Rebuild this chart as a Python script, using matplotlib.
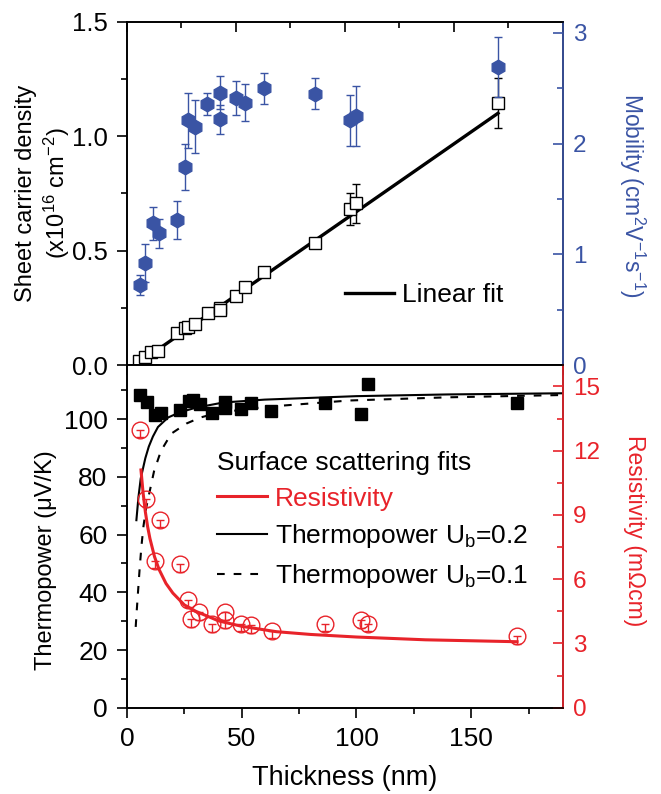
import matplotlib
matplotlib.use("Agg")
import matplotlib.pyplot as plt
from matplotlib.ticker import MultipleLocator

plt.rcParams['font.family'] = ['Liberation Sans', 'DejaVu Sans']
plt.rcParams['mathtext.fontset'] = 'custom'
plt.rcParams['mathtext.rm'] = 'Liberation Sans'
plt.rcParams['mathtext.it'] = 'Liberation Sans:italic'
plt.rcParams['axes.linewidth'] = 1.2

BLUE = '#3a54a4'
RED = '#e8232a'

# top panel: Hall data
hall_t = [5.8, 8.3, 11.9, 14.5, 22.9, 26.6, 28.0, 31.2, 36.9, 42.8, 42.8, 49.9, 54.1, 62.9, 86.1, 102.2, 105.0, 170.2]
mobility = [0.72, 0.92, 1.28, 1.19, 1.31, 1.79, 2.21, 2.15, 2.36, 2.46, 2.22, 2.41, 2.37, 2.50, 2.45, 2.21, 2.25, 2.69]
mobility_err = [0.09, 0.17, 0.15, 0.13, 0.17, 0.21, 0.25, 0.24, 0.10, 0.15, 0.13, 0.15, 0.17, 0.14, 0.14, 0.23, 0.27, 0.27]
dens_t = [5.5, 8.1, 11.2, 14.2, 22.9, 26.5, 28.0, 31.0, 37.2, 42.8, 42.8, 49.9, 54.1, 62.9, 86.1, 102.2, 105.0, 170.2]
density = [0.017, 0.036, 0.058, 0.063, 0.138, 0.160, 0.167, 0.179, 0.226, 0.248, 0.240, 0.303, 0.342, 0.408, 0.532, 0.680, 0.706, 1.146]
density_err = [0.01, 0.01, 0.01, 0.01, 0.01, 0.01, 0.01, 0.01, 0.01, 0.01, 0.01, 0.01, 0.01, 0.01, 0.01, 0.07, 0.084, 0.11]
linfit_t = [5.5, 170.2]
linfit_n = [0.01, 1.10]

# bottom panel: thermopower and resistivity
tp_t = [5.5, 8.9, 12.1, 15.0, 23.0, 26.9, 28.8, 31.7, 37.0, 42.5, 42.5, 49.5, 53.9, 62.9, 86.1, 102.1, 105.0, 170.0]
thermopower = [108.4, 106.1, 101.5, 102.0, 103.2, 106.4, 106.7, 105.3, 102.3, 106.0, 104.0, 103.4, 105.7, 103.0, 105.8, 101.8, 112.2, 105.5]
res_t = [5.8, 8.4, 12.1, 14.2, 22.9, 26.6, 27.7, 31.2, 37.0, 42.8, 42.8, 49.8, 54.2, 63.2, 86.1, 102.1, 105.0, 170.0]
resistivity = [12.98, 9.73, 6.87, 8.78, 6.70, 5.05, 4.12, 4.45, 3.90, 4.45, 4.09, 3.93, 3.86, 3.59, 3.93, 4.09, 3.93, 3.34]
res_err = [0.35] * len(res_t)

resfit_t = [6.1, 7, 8, 9, 10, 12, 14, 17, 20, 25, 30, 40, 50, 65, 80, 100, 130, 170]
resfit = [11.1, 10.05, 9.15, 8.45, 7.9, 7.05, 6.45, 5.8, 5.35, 4.8, 4.5, 4.05, 3.8, 3.55, 3.42, 3.3, 3.17, 3.08]
tp02_t = [4.1, 5.0, 6.0, 7.0, 8.0, 9.5, 11.3, 13.5, 17.9, 23, 30, 42, 60, 100, 140, 190]
tp02 = [65, 73, 79.5, 83, 86.5, 90.5, 94, 97.3, 100.6, 102.4, 104, 105.8, 106.8, 108, 108.6, 109]
tp01_t = [3.8, 4.2, 4.8, 5.5, 6.3, 7.2, 8.3, 9.9, 11.8, 14.8, 19.3, 25.9, 32, 40, 60.7, 97, 140, 190]
tp01 = [28, 33, 40, 48, 56, 63, 69, 75, 82, 89, 95, 98.5, 100.6, 102.3, 104.3, 106.5, 107.6, 108.4]

fig = plt.figure(figsize=(6.61, 7.94), dpi=100)
L, W = 0.1921, 0.6596
ax1 = fig.add_axes([L, 0.5403, W, 0.4324])
ax2 = ax1.twinx()
ax3 = fig.add_axes([L, 0.1087, W, 0.4316])
ax4 = ax3.twinx()

# ---- top panel
ax1.errorbar(dens_t, density, yerr=density_err, fmt='s', ms=8.6, mfc='white', mec='black',
             mew=1.0, ecolor='black', elinewidth=1.0, capsize=3.2, capthick=1.0, zorder=3)
fitline, = ax1.plot(linfit_t, linfit_n, color='black', lw=2.4, zorder=2)
ax2.errorbar(hall_t, mobility, yerr=mobility_err, fmt='h', ms=10.5, mfc=BLUE, mec=BLUE,
             ecolor=BLUE, elinewidth=1.0, capsize=3, capthick=1.0)

ax1.set_xlim(0, 200)
ax1.set_ylim(0, 1.5)
ax2.set_ylim(0, 3.1)
ax1.xaxis.set_major_locator(MultipleLocator(50))
ax1.xaxis.set_minor_locator(MultipleLocator(25))
ax1.yaxis.set_major_locator(MultipleLocator(0.5))
ax1.yaxis.set_minor_locator(MultipleLocator(0.25))
ax2.yaxis.set_major_locator(MultipleLocator(1))
ax2.yaxis.set_minor_locator(MultipleLocator(0.5))
ax1.yaxis.set_major_formatter(matplotlib.ticker.FormatStrFormatter('%.1f'))

ax1.tick_params(axis='x', which='both', bottom=True, top=False, labelbottom=False, direction='out')
ax1.tick_params(axis='y', which='both', direction='out', labelsize=18.5, pad=7)
ax2.xaxis.set_visible(True)
ax2.xaxis.tick_top()
ax2.tick_params(axis='x', which='both', direction='in', labeltop=False)
ax2.tick_params(axis='y', which='both', direction='in', colors=BLUE, labelsize=17.5, pad=7)
ax2.spines['right'].set_color(BLUE)
for a in (ax1, ax2):
    a.tick_params(which='major', length=7, width=1.2)
    a.tick_params(which='minor', length=4, width=1.2)

ax1.set_ylabel('Sheet carrier density\n(x10$^{16}$ cm$^{-2}$)', fontsize=17)
ax1.yaxis.set_label_coords(-0.126, 0.5)
ax2.set_ylabel('Mobility (cm$^{2}$V$^{-1}$s$^{-1}$)', fontsize=16.5, color=BLUE, rotation=270, va='bottom')
ax2.yaxis.set_label_coords(1.124, 0.495)
ax2.legend([fitline], ['Linear fit'], loc='center left', bbox_to_anchor=(0.501, 0.204),
           frameon=False, fontsize=19, handlelength=1.84, handletextpad=0.3,
           borderpad=0, borderaxespad=0)

# ---- bottom panel
ax3.plot(tp_t, thermopower, 's', ms=8.5, color='black', zorder=3)
l02, = ax3.plot(tp02_t, tp02, color='black', lw=1.5)
l01, = ax3.plot(tp01_t, tp01, color='black', lw=1.5, ls=(0, (3.7, 4.3)))
ax4.errorbar(res_t, resistivity, yerr=[res_err, [0] * len(res_err)], fmt='o', ms=12,
             mfc='none', mec=RED, mew=1.0, ecolor=RED, elinewidth=1.0, capsize=3, capthick=1.0)
lres, = ax4.plot(resfit_t, resfit, color=RED, lw=2.2)

ax3.set_xlim(0, 190)
ax3.set_ylim(0, 118.8)
ax4.set_ylim(0, 16)
ax3.xaxis.set_major_locator(MultipleLocator(50))
ax3.xaxis.set_minor_locator(MultipleLocator(25))
ax3.yaxis.set_major_locator(MultipleLocator(20))
ax3.yaxis.set_minor_locator(MultipleLocator(10))
ax4.yaxis.set_major_locator(MultipleLocator(3))
ax4.yaxis.set_minor_locator(MultipleLocator(1.5))
ax3.tick_params(axis='both', which='both', direction='out', labelsize=19, pad=7)
ax4.tick_params(axis='y', which='both', direction='in', colors=RED, labelsize=17.5, pad=7)
ax4.spines['right'].set_color(RED)
for a in (ax3, ax4):
    a.tick_params(which='major', length=7, width=1.2)
    a.tick_params(which='minor', length=4, width=1.2)

ax3.set_xlabel('Thickness (nm)', fontsize=19.5, labelpad=10)
ax3.set_ylabel('Thermopower (μV/K)', fontsize=17)
ax3.yaxis.set_label_coords(-0.16, 0.431)
ax4.set_ylabel('Resistivity (mΩcm)', fontsize=16.5, color=RED, rotation=270, va='bottom')
ax4.yaxis.set_label_coords(1.138, 0.516)

leg = ax4.legend([lres, l02, l01],
                 ['Resistivity', 'Thermopower U$_\\mathregular{b}$=0.2', 'Thermopower U$_\\mathregular{b}$=0.1'],
                 title='Surface scattering fits', title_fontsize=19, alignment='left',
                 loc='upper left', bbox_to_anchor=(0.206, 0.75), frameon=False, fontsize=19,
                 handlelength=1.9, handletextpad=0.3, labelspacing=0.45,
                 borderpad=0, borderaxespad=0)
leg.get_texts()[0].set_color(RED)

fig.savefig('out.png', dpi=100)
